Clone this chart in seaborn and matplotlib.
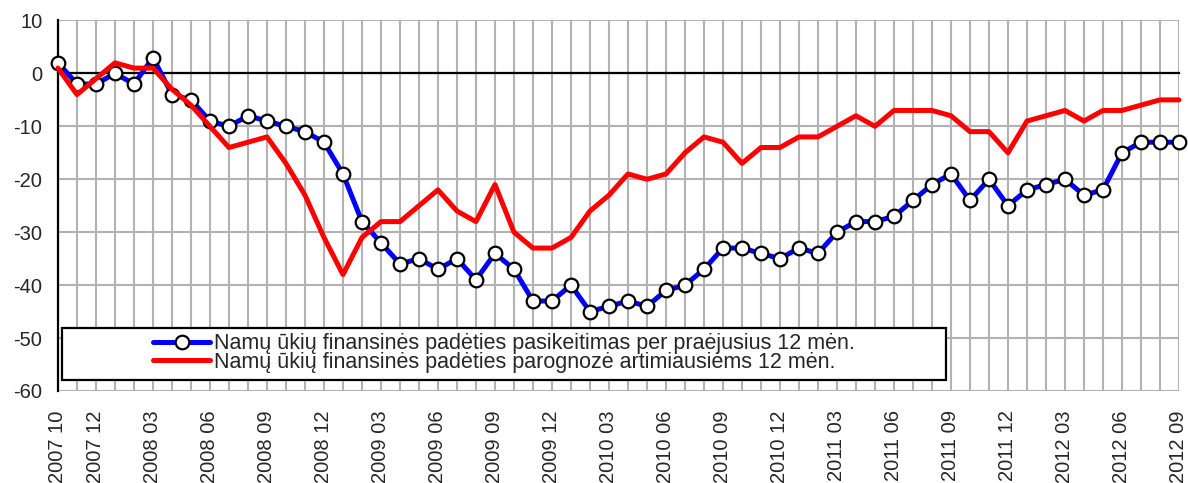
import numpy as np
import pandas as pd
import seaborn as sns
import matplotlib.pyplot as plt
from matplotlib.patches import Rectangle
from matplotlib.lines import Line2D

# monthly categories 2007 10 .. 2012 09
months = [p.strftime("%Y %m") for p in pd.period_range("2007-10", "2012-09", freq="M")]

past_12m = [2, -2, -2, 0, -2, 3, -4, -5, -9, -10,
            -8, -9, -10, -11, -13, -19, -28, -32, -36, -35,
            -37, -35, -39, -34, -37, -43, -43, -40, -45, -44,
            -43, -44, -41, -40, -37, -33, -33, -34, -35, -33,
            -34, -30, -28, -28, -27, -24, -21, -19, -24, -20,
            -25, -22, -21, -20, -23, -22, -15, -13, -13, -13]

next_12m = [1, -4, -1, 2, 1, 1, -3, -6, -10, -14,
            -13, -12, -17, -23, -31, -38, -31, -28, -28, -25,
            -22, -26, -28, -21, -30, -33, -33, -31, -26, -23,
            -19, -20, -19, -15, -12, -13, -17, -14, -14, -12,
            -12, -10, -8, -10, -7, -7, -7, -8, -11, -11,
            -15, -9, -8, -7, -9, -7, -7, -6, -5, -5]

tick_labels = ["2007 10", "2007 12", "2008 03", "2008 06", "2008 09", "2008 12",
               "2009 03", "2009 06", "2009 09", "2009 12", "2010 03", "2010 06",
               "2010 09", "2010 12", "2011 03", "2011 06", "2011 09", "2011 12",
               "2012 03", "2012 06", "2012 09"]

series_names = ["Namų ūkių finansinės padėties pasikeitimas per praėjusius 12 mėn.",
                "Namų ūkių finansinės padėties parognozė artimiausiems 12 mėn."]

sns.set_theme(style="white")
plt.rcParams['font.family'] = ['Liberation Sans', 'DejaVu Sans']
plt.rcParams['axes.unicode_minus'] = False

df = pd.DataFrame({"pos": np.arange(len(months)), "month": months,
                   "past": past_12m, "next": next_12m})

fig = plt.figure(figsize=(11.88, 4.83), dpi=100)
ax = fig.add_axes([0.0488, 0.1905, 0.9436, 0.7671])

grid_col = "#b2b2b2"
sns.lineplot(data=df, x="pos", y="past", ax=ax, color="#0000ff", linewidth=3.6,
             marker="o", markersize=9.8, markerfacecolor="white",
             markeredgecolor="black", markeredgewidth=1.6, zorder=3, clip_on=False)
sns.lineplot(data=df, x="pos", y="next", ax=ax, color="#ff0000", linewidth=3.6,
             zorder=4, clip_on=False)

ax.set_xlim(0, len(months) - 1)
ax.set_ylim(-60, 10)
ax.set_yticks(range(-60, 11, 10))
ax.set_xticks(df["pos"])
ax.set_xticklabels([""] * len(months))
ax.set_xlabel("")
ax.set_ylabel("")

# grid
ax.grid(True, axis="both", color=grid_col, linewidth=1.5)
ax.set_axisbelow(True)

# spines: y axis black, category axis crossing at 0
for s in ["top", "right"]:
    ax.spines[s].set_visible(False)
ax.spines["left"].set_color("black")
ax.spines["left"].set_linewidth(1.6)
ax.spines["bottom"].set_position(("data", 0))
ax.spines["bottom"].set_color("black")
ax.spines["bottom"].set_linewidth(1.6)
ax.spines["bottom"].set_zorder(2.5)
ax.tick_params(axis="x", direction="out", length=4, width=1.6, color="black", pad=0)
ax.tick_params(axis="y", direction="out", length=5.8, width=1.6, color="black",
               labelsize=14.5, pad=5.5)

# date labels at the bottom of the plot area
sec = ax.secondary_xaxis(0.0)
sec.set_xticks([months.index(t) for t in tick_labels])
sec.set_xticklabels(tick_labels, rotation=90, fontsize=14.5)
sec.tick_params(length=0, pad=14)
sec.spines["bottom"].set_visible(False)

# legend box
box = Rectangle((62 / 1188, 1 - 380 / 483), 884 / 1188, 52 / 483,
                transform=fig.transFigure, facecolor="white", edgecolor="black",
                linewidth=1.6, zorder=5)
ax.add_patch(box)
box.set_clip_on(False)

handles = [Line2D([], [], color="#0000ff", linewidth=3.6, marker="o", markersize=9.8,
                  markerfacecolor="white", markeredgecolor="black", markeredgewidth=1.6),
           Line2D([], [], color="#ff0000", linewidth=3.6)]
leg = ax.legend(handles, series_names, loc="center",
                bbox_to_anchor=(504 / 1188, 1 - 353 / 483),
                bbox_transform=fig.transFigure, frameon=False, fontsize=15.5,
                handlelength=2.65, handletextpad=0.15, labelspacing=-0.1,
                borderpad=0)
leg.set_zorder(6)

plt.savefig("out.png", dpi=100)
